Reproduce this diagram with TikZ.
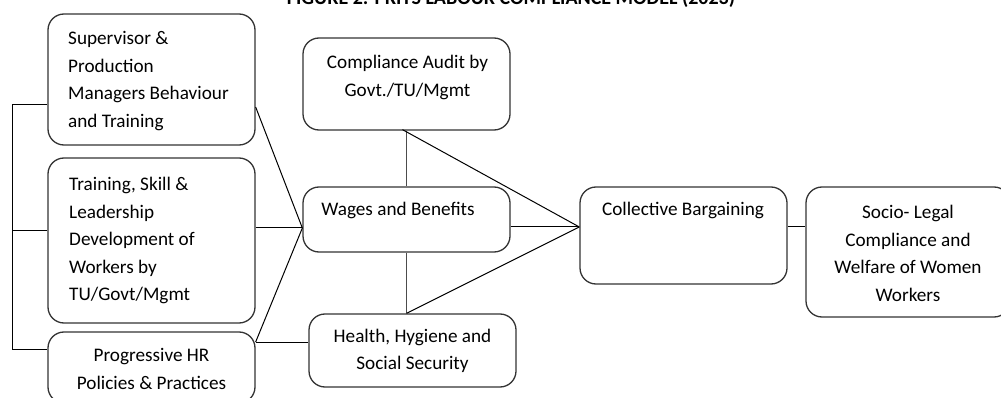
\documentclass[tikz,border=0pt]{standalone}
\usepackage{fontspec}
\setmainfont{Carlito}
\begin{document}
\begin{tikzpicture}[x=1pt,y=-1pt,
  box/.style={draw=black!80,line width=1.3pt,rounded corners=16pt,inner sep=0pt},
  lbl/.style={inner sep=0pt,font=\fontsize{19.2}{27.5}\selectfont},
  conn/.style={draw=black,line width=1pt},
  vconn/.style={draw=black!70,line width=1.6pt}]
\useasboundingbox (0,0) rectangle (1001,398);
% title (cut off at top, as in the reference)
\node[anchor=base,inner sep=0pt,font=\fontsize{20}{22}\bfseries\selectfont] (title) at (511,5) {FIGURE 2: PKIYS LABOUR COMPLIANCE MODEL (2023)};
% boxes
\node[box,minimum width=207pt,minimum height=131pt] (A) at (151.5,79.5) {};
\node[box,minimum width=207pt,minimum height=165pt] (B) at (151.5,240.5) {};
\node[box,minimum width=207pt,minimum height=71pt] (C) at (151.5,367.5) {};
\node[box,minimum width=207pt,minimum height=92pt] (CA) at (406.5,84) {};
\node[box,minimum width=207pt,minimum height=65pt] (W) at (406.5,219.5) {};
\node[box,minimum width=207pt,minimum height=73pt] (H) at (412.5,350.5) {};
\node[box,minimum width=207pt,minimum height=97pt] (CB) at (683.5,235.5) {};
\node[box,minimum width=204pt,minimum height=130pt] (S) at (908,252) {};
% texts
\node[lbl,align=left,anchor=west] (tA) at (68,81) {Supervisor \&\\Production\\Managers Behaviour\\and Training};
\node[lbl,align=left,anchor=west] (tB) at (69,240.5) {Training, Skill \&\\Leadership\\Development of\\Workers by\\TU/Govt/Mgmt};
\node[lbl,align=center] (tC) at (151.5,369) {Progressive HR\\Policies \& Practices};
\node[lbl,align=center] (tCA) at (407.5,77.5) {Compliance Audit by\\Govt./TU/Mgmt};
\node[lbl,align=center] (tW) at (398,210) {Wages and Benefits};
\node[lbl,align=center] (tH) at (412.5,351) {Health, Hygiene and\\Social Security};
\node[lbl,align=center] (tCB) at (683,210) {Collective Bargaining};
\node[lbl,align=center] (tS) at (908,253.5) {Socio- Legal\\Compliance and\\Welfare of Women\\Workers};
% junction coordinates
\coordinate (bTop) at (12,105);
\coordinate (bBot) at (12,349);
\coordinate (bIn) at ([yshift=10pt]B.west);
\coordinate (wIn) at ([yshift=-8.5pt]W.west);
\coordinate (cbIn) at ([yshift=8.5pt]CB.west);
\coordinate (cOut) at ([yshift=25.5pt]C.east);
% left bracket
\draw[conn] (A.west |- bTop) -- (bTop) -- (bBot) -- (C.west |- bBot);
\draw[conn] (bIn) -- (bTop |- bIn);
% into wages
\draw[conn] ([yshift=-27.5pt]A.east) -- (wIn);
\draw[conn] (B.east |- wIn) -- (wIn);
\draw[conn] (cOut) -- (wIn);
\draw[conn] (cOut) -- (H.west |- cOut);
% compliance/wages/health
\draw[vconn] (CA.south) -- (W.north);
\draw[vconn] (W.south) -- (W.south |- H.north);
\draw[conn] ([xshift=-4pt,yshift=1pt]CA.south) -- (cbIn);
\draw[conn] (W.east |- cbIn) -- (cbIn);
\draw[conn] (W.south |- H.north) -- (cbIn);
\draw[conn] (CB.east |- cbIn) -- (S.west |- cbIn);
\end{tikzpicture}
\end{document}
